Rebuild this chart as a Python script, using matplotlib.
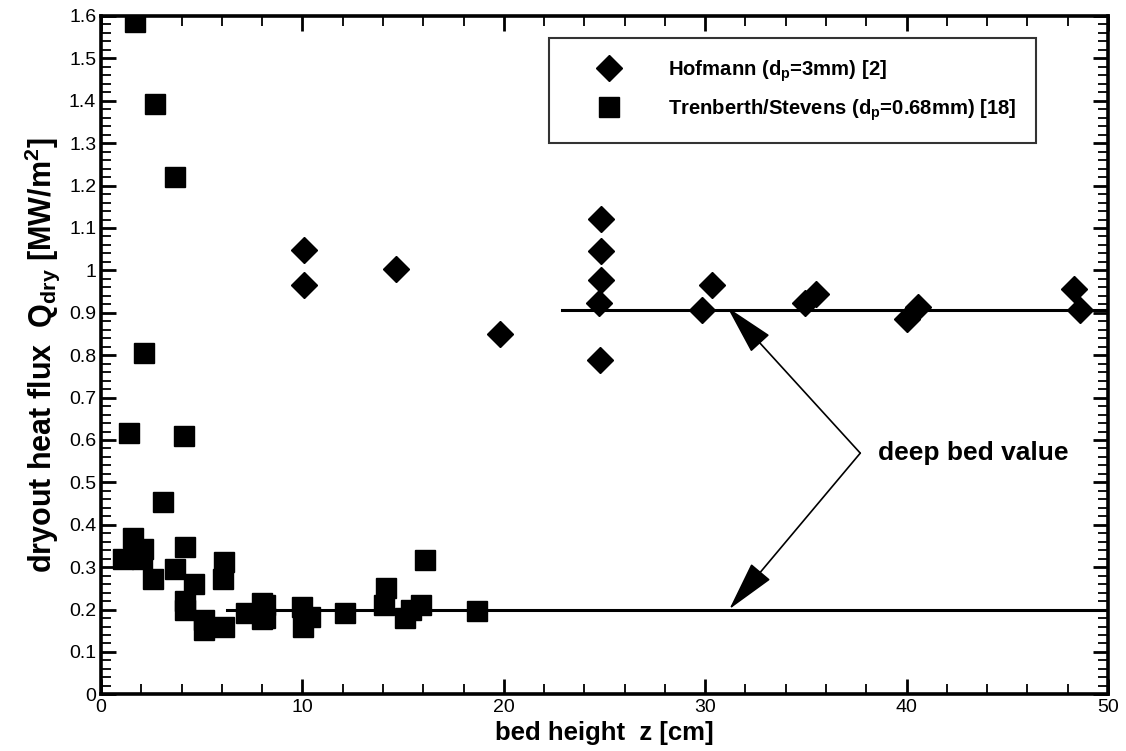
import matplotlib
matplotlib.use("Agg")
import matplotlib.pyplot as plt
from matplotlib.ticker import MultipleLocator

plt.rcParams['font.family'] = ['Liberation Sans', 'DejaVu Sans']
plt.rcParams['mathtext.fontset'] = 'custom'
plt.rcParams['mathtext.rm'] = 'Liberation Sans:bold'
plt.rcParams['mathtext.it'] = 'Liberation Sans:bold'
plt.rcParams['mathtext.bf'] = 'Liberation Sans:bold'

# Hofmann (dp=3mm) [2]
hof_x = [10.07, 10.07, 14.67, 19.8, 24.85, 24.85, 24.85, 24.73, 24.78,
         29.84, 30.34, 34.94, 35.52, 40.03, 40.56, 48.3, 48.59]
hof_y = [1.047, 0.966, 1.004, 0.851, 1.122, 1.045, 0.978, 0.923, 0.788,
         0.906, 0.965, 0.922, 0.945, 0.886, 0.914, 0.955, 0.906]

# Trenberth/Stevens (dp=0.68mm) [18]
tre_x = [1.69, 2.68, 3.67, 2.13, 1.39, 4.12, 3.06, 1.59, 2.07, 1.09, 2.02,
         4.17, 2.58, 3.67, 4.62, 6.10, 6.05, 4.17, 4.17, 5.11, 5.11, 6.1,
         7.2, 7.97, 7.97, 8.14, 8.14, 9.96, 10.37, 10.05, 12.1, 16.08,
         14.14, 14.04, 15.09, 15.87, 15.4, 18.65]
tre_y = [1.587, 1.392, 1.22, 0.804, 0.616, 0.61, 0.454, 0.369, 0.344, 0.319, 0.319,
         0.348, 0.272, 0.295, 0.26, 0.312, 0.272, 0.221, 0.199, 0.175, 0.152, 0.16,
         0.193, 0.215, 0.177, 0.211, 0.179, 0.207, 0.183, 0.16, 0.193, 0.317,
         0.251, 0.211, 0.179, 0.211, 0.2, 0.197]

# deep bed values
deep_hof = 0.907
deep_hof_x = [22.9, 50]
deep_tre = 0.2
deep_tre_x = [6.24, 50]

fig = plt.figure(figsize=(11.26, 7.51), dpi=100)
ax = fig.add_axes([0.0897, 0.0754, 0.8943, 0.9033])

ax.plot(deep_hof_x, [deep_hof, deep_hof], color='k', lw=2.2, zorder=2)
ax.plot(deep_tre_x, [deep_tre, deep_tre], color='k', lw=2.2, zorder=2)

ax.plot(hof_x, hof_y, ls='none', marker='D', ms=13.7, color='k', mec='k', zorder=3,
        label='Hofmann (d$_p$=3mm) [2]')
ax.plot(tre_x, tre_y, ls='none', marker='s', ms=14.4, color='k', mec='k', zorder=3,
        label='Trenberth/Stevens (d$_p$=0.68mm) [18]')

ax.set_xlim(0, 50)
ax.set_ylim(0, 1.6)
ax.xaxis.set_major_locator(MultipleLocator(10))
ax.xaxis.set_minor_locator(MultipleLocator(2))
ax.yaxis.set_minor_locator(MultipleLocator(0.02))
ax.set_yticks([i / 10 for i in range(17)])
ax.set_yticklabels(['0'] + ['%.1f' % (i / 10) for i in range(1, 10)] + ['1'] +
                   ['%.1f' % (i / 10) for i in range(11, 17)])

ax.tick_params(which='both', direction='in', top=True, right=True, labelsize=14)
ax.tick_params(which='major', length=11, width=2)
ax.tick_params(which='minor', length=7, width=1.3)
ax.tick_params(axis='x', pad=3)
for s in ax.spines.values():
    s.set_linewidth(2.6)

ax.set_xlabel('bed height  z [cm]', fontsize=18.5, fontweight='bold', labelpad=4)
ax.set_ylabel(r'dryout heat flux  Q$_{dry}$ [MW/m$^2$]', fontsize=22,
              fontweight='bold', labelpad=5)

leg = ax.legend(loc='upper left', bbox_to_anchor=(0.445, 0.9676), frameon=True,
                fancybox=False, edgecolor='k', prop={'size': 14.6, 'weight': 'bold'},
                borderpad=1.0, handletextpad=0.95, handlelength=3.9, labelspacing=0.66,
                borderaxespad=0, markerscale=1.0)
leg.get_frame().set_linewidth(1.5)

arrow_kw = dict(arrowstyle='-|>,head_length=0.8,head_width=0.2', color='k', lw=1.2,
                mutation_scale=40, shrinkA=0, shrinkB=0)
ax.annotate('', xy=(31.1, 0.913), xytext=(37.7, 0.569), arrowprops=arrow_kw)
ax.annotate('', xy=(31.2, 0.201), xytext=(37.7, 0.569), arrowprops=arrow_kw)
ax.text(38.6, 0.57, 'deep bed value', fontsize=19, fontweight='bold', ha='left', va='center')

fig.savefig('out.png', dpi=100)
